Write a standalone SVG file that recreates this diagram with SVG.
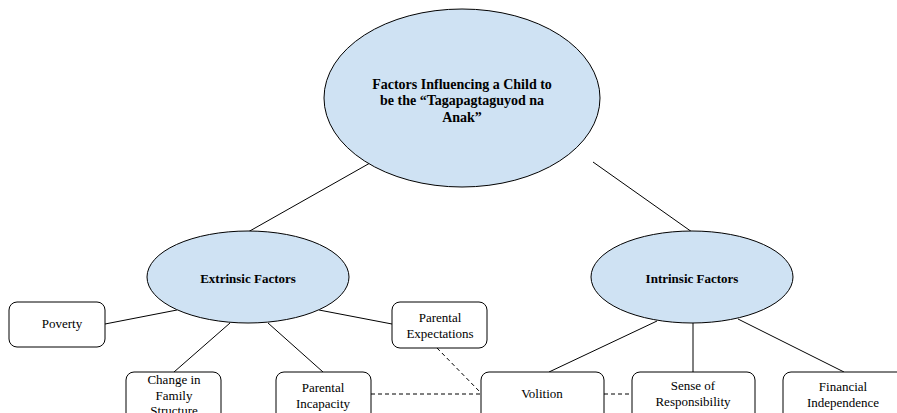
<svg xmlns="http://www.w3.org/2000/svg" width="897" height="413" viewBox="0 0 897 413">
<style>
.ell{fill:#cfe2f3;stroke:#000;stroke-width:1}
.box{fill:#fff;stroke:#000;stroke-width:1}
.ln{stroke:#000;stroke-width:1;fill:none}
.dash{stroke:#000;stroke-width:1;fill:none;stroke-dasharray:4 3}
text{font-family:'Liberation Serif','DejaVu Serif',serif;font-size:13px;fill:#000;text-anchor:middle}
.b{font-weight:bold}
.t{font-size:14px}
</style>
<rect width="897" height="413" fill="#fff"/>
<g id="connectors">
<line class="ln" x1="370" y1="163" x2="248" y2="232"/>
<line class="ln" x1="593" y1="162" x2="692" y2="232"/>
<line class="ln" x1="105" y1="324" x2="177" y2="310"/>
<line class="ln" x1="230" y1="323" x2="174" y2="372"/>
<line class="ln" x1="268" y1="323" x2="323" y2="372"/>
<line class="ln" x1="319" y1="310" x2="392" y2="324"/>
<line class="ln" x1="657" y1="321" x2="549" y2="372"/>
<line class="ln" x1="693" y1="323" x2="693" y2="372"/>
<line class="ln" x1="738" y1="319" x2="844" y2="372"/>
<line class="dash" x1="371" y1="394" x2="481" y2="394"/>
<line class="dash" x1="604" y1="394" x2="632" y2="394"/>
<line class="dash" x1="437" y1="348" x2="481" y2="393"/>
</g>
<g id="main">
<ellipse class="ell" cx="462" cy="98" rx="138" ry="89"/>
<text class="b t" x="462" y="89">Factors Influencing a Child to</text>
<text class="b t" x="462" y="105">be the “Tagapagtaguyod na</text>
<text class="b t" x="462" y="122">Anak”</text>
</g>
<g id="extrinsic">
<ellipse class="ell" cx="248" cy="277" rx="101" ry="46"/>
<text class="b" x="248" y="283">Extrinsic Factors</text>
</g>
<g id="intrinsic">
<ellipse class="ell" cx="692" cy="277" rx="101" ry="46"/>
<text class="b" x="692" y="283">Intrinsic Factors</text>
</g>
<g id="poverty">
<rect class="box" x="9" y="302" width="96" height="45" rx="8"/>
<text x="62" y="328">Poverty</text>
</g>
<g id="parental-expectations">
<rect class="box" x="392" y="302" width="95" height="46" rx="8"/>
<text x="440" y="322">Parental</text>
<text x="440" y="338">Expectations</text>
</g>
<g id="change-family">
<rect class="box" x="126" y="372" width="95" height="60" rx="8"/>
<text x="174" y="384">Change in</text>
<text x="174" y="400">Family</text>
<text x="174" y="415">Structure</text>
</g>
<g id="parental-incapacity">
<rect class="box" x="276" y="372" width="95" height="60" rx="8"/>
<text x="323" y="392">Parental</text>
<text x="323" y="408">Incapacity</text>
</g>
<g id="volition">
<rect class="box" x="481" y="372" width="123" height="60" rx="8"/>
<text x="542" y="398">Volition</text>
</g>
<g id="sense-responsibility">
<rect class="box" x="632" y="372" width="123" height="60" rx="8"/>
<text x="693" y="390">Sense of</text>
<text x="693" y="406">Responsibility</text>
</g>
<g id="financial-independence">
<rect class="box" x="783" y="372" width="122" height="60" rx="8"/>
<text x="843" y="391">Financial</text>
<text x="843" y="407">Independence</text>
</g>
</svg>
